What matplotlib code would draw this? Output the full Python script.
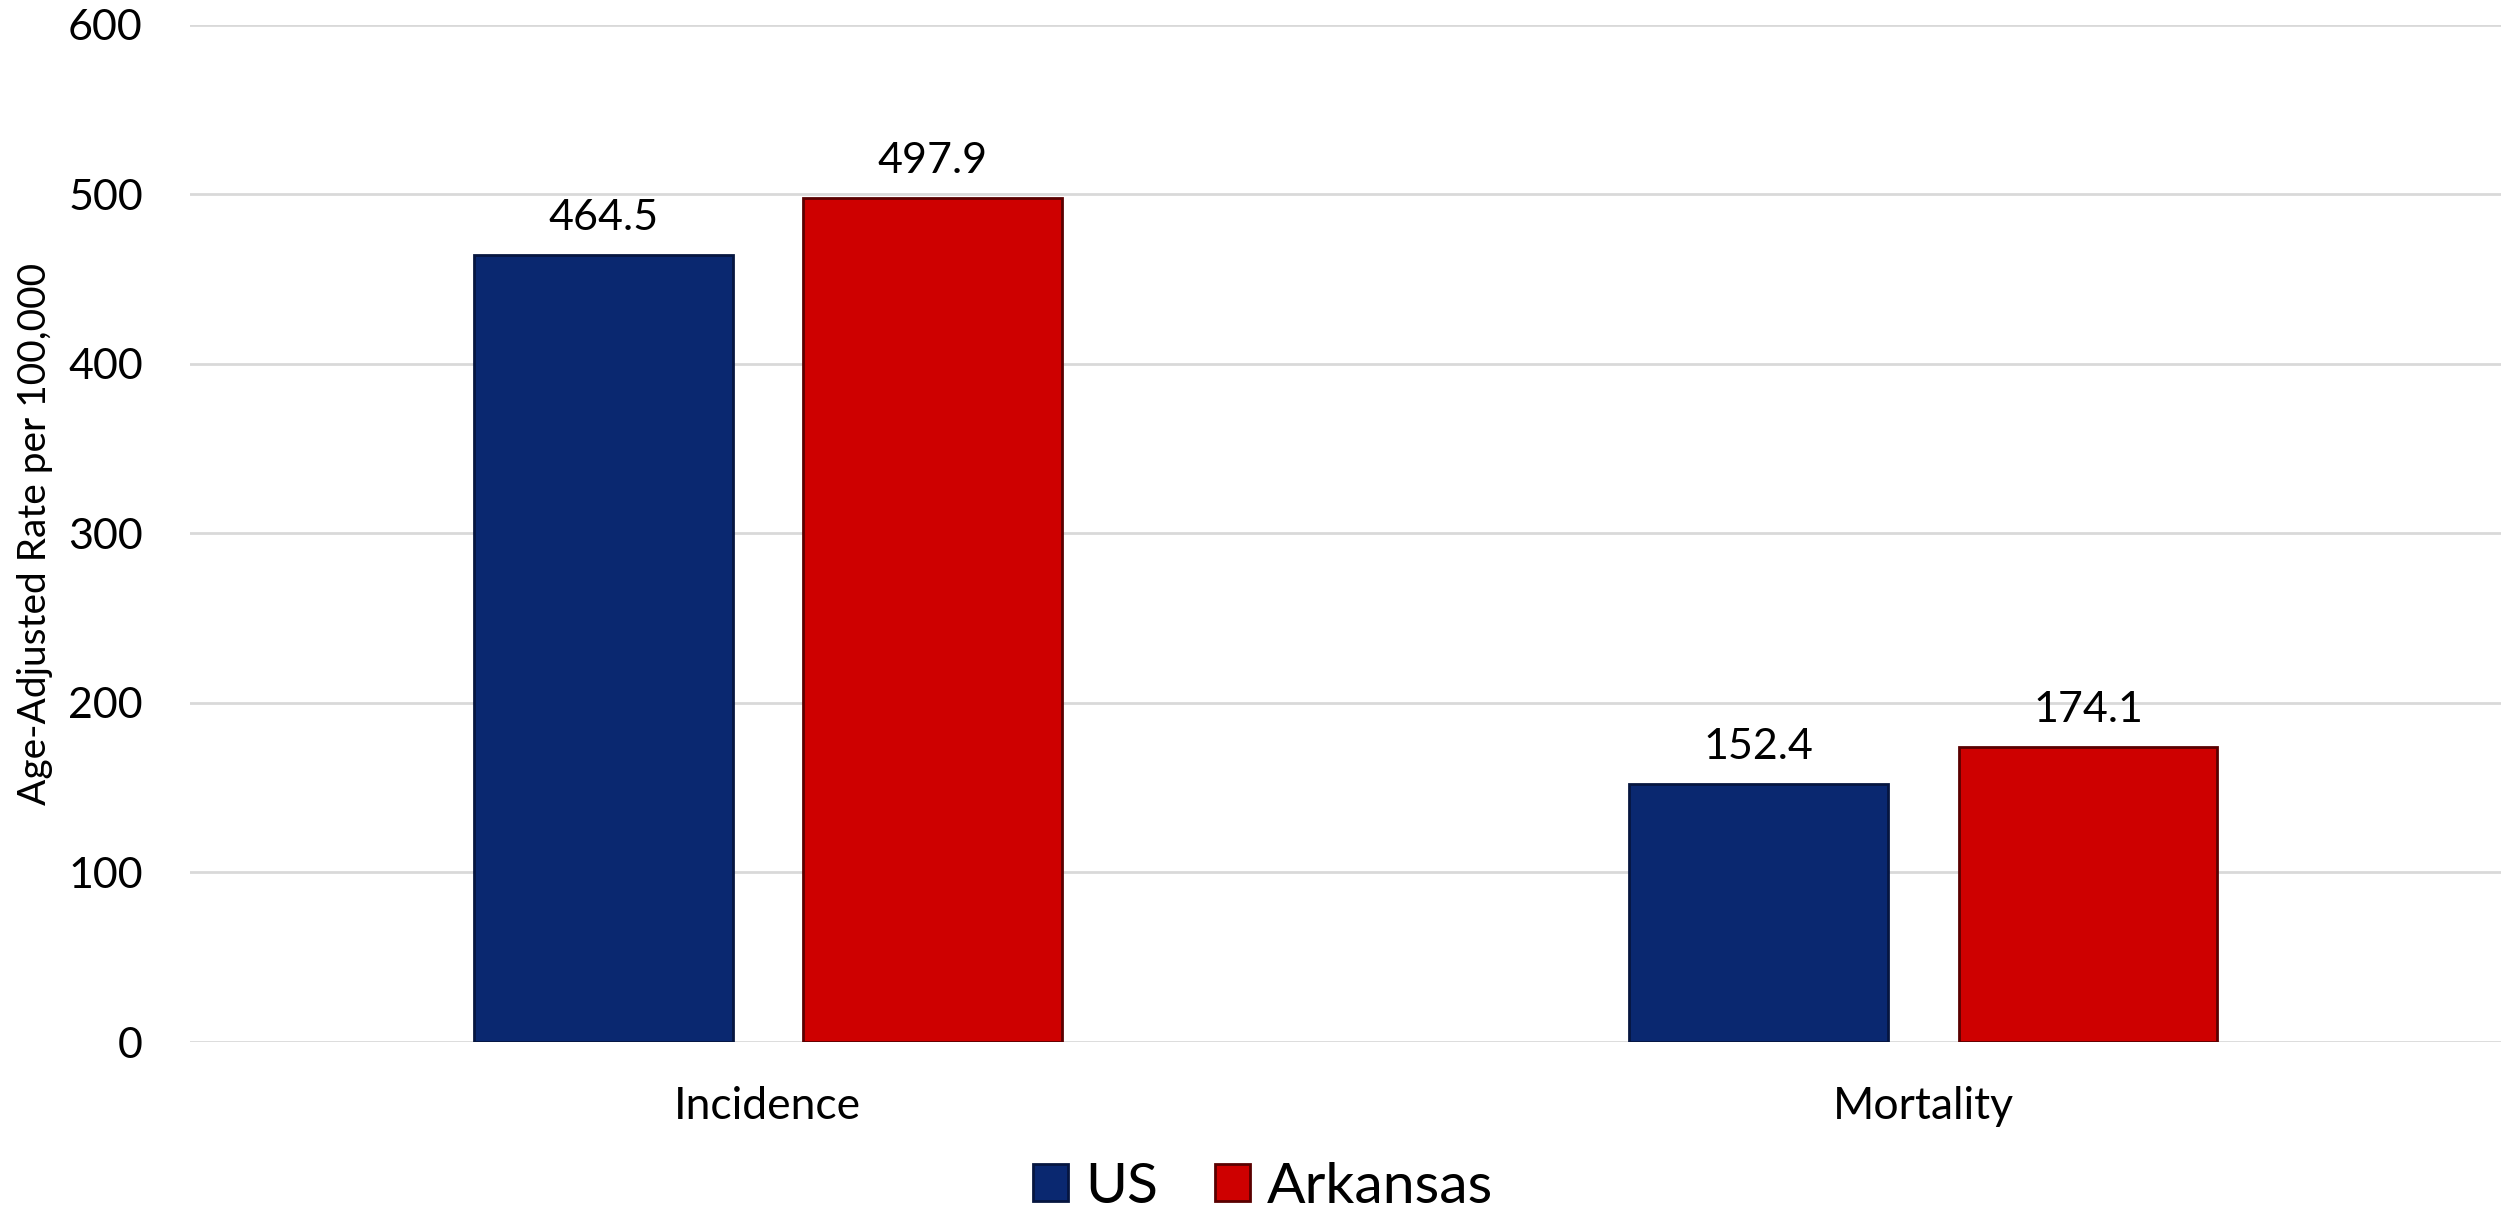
import numpy as np
import matplotlib
matplotlib.use("Agg")
import matplotlib.pyplot as plt

plt.rcParams['font.family'] = ['Lato', 'DejaVu Sans']

# datos
categorias = ["Incidence", "Mortality"]
us = [464.5, 152.4]
arkansas = [497.9, 174.1]
series = ["US", "Arkansas"]
yticks = [0, 100, 200, 300, 400, 500, 600]

azul = "#0A2870"
rojo = "#CE0000"

fig = plt.figure(figsize=(25.01, 12.19), dpi=100)
ax = fig.add_axes([0.076, 0.1452, 0.924, 0.8343])

x = np.arange(len(categorias))
ancho = 0.224
sep = 0.061

b1 = ax.bar(x - (ancho + sep) / 2, us, ancho, color=azul,
            edgecolor="#061640", linewidth=2, label=series[0], zorder=3)
b2 = ax.bar(x + (ancho + sep) / 2, arkansas, ancho, color=rojo,
            edgecolor="#5a0000", linewidth=2, label=series[1], zorder=3)

ax.bar_label(b1, labels=[f"{v:.1f}" for v in us], padding=13, fontsize=31)
ax.bar_label(b2, labels=[f"{v:.1f}" for v in arkansas], padding=13, fontsize=31)

ax.set_xlim(-0.5, 1.5)
ax.set_ylim(0, 600)
ax.set_yticks(yticks)
ax.set_xticks(x)
ax.set_xticklabels(categorias, fontsize=32)
ax.tick_params(axis="y", labelsize=31, length=0, pad=34)
ax.tick_params(axis="x", length=0, pad=32)
ax.set_ylabel("Age-Adjusted Rate per 100,000", fontsize=28)
ax.yaxis.set_label_coords(-0.0595, 0.5)

ax.grid(axis="y", color="#D9D9D9", linewidth=2, zorder=0)
for s in ax.spines.values():
    s.set_visible(False)

fig.legend(loc="center", bbox_to_anchor=(0.505, 0.026), ncol=2, frameon=False,
           fontsize=41, handlelength=0.62, handleheight=0.62,
           handletextpad=0.3, columnspacing=1.0, borderpad=0.2)

fig.savefig("out.png", dpi=100)
